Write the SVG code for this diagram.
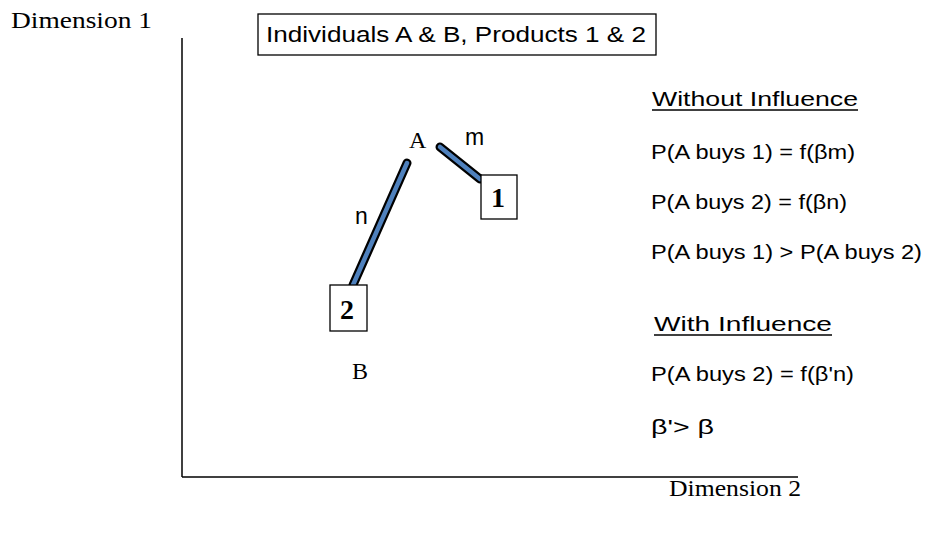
<svg xmlns="http://www.w3.org/2000/svg" width="933" height="533" viewBox="0 0 933 533">
<style>
.serif{font-family:"Liberation Serif","Times New Roman",serif;fill:#000}
.sans{font-family:"Liberation Sans",Arial,sans-serif;fill:#000}
.box{fill:#fff;stroke:#000;stroke-width:1.3}
.outer{stroke:#000;stroke-width:9;stroke-linecap:round;fill:none}
.inner{stroke:#4f81bd;stroke-width:4.5;stroke-linecap:round;fill:none}
.rt{font-size:20px}
</style>
<rect width="933" height="533" fill="#fff"/>
<g id="axes">
<line x1="182" y1="38" x2="182" y2="477" stroke="#000" stroke-width="1.5"/>
<line x1="182" y1="477" x2="798" y2="477" stroke="#000" stroke-width="1.5"/>
<text class="serif" x="11" y="28" font-size="23" textLength="141" lengthAdjust="spacingAndGlyphs">Dimension 1</text>
<text class="serif" x="669" y="496" font-size="23" textLength="132" lengthAdjust="spacingAndGlyphs">Dimension 2</text>
</g>
<g id="title">
<rect class="box" x="258" y="14" width="398" height="41"/>
<text class="sans" x="266" y="42" font-size="22" textLength="380" lengthAdjust="spacingAndGlyphs">Individuals A &amp; B, Products 1 &amp; 2</text>
</g>
<g id="connectors">
<line class="outer" x1="407" y1="163" x2="353" y2="285"/>
<line class="inner" x1="407" y1="163" x2="353" y2="285"/>
<line class="outer" x1="440" y1="147" x2="480" y2="179"/>
<line class="inner" x1="440" y1="147" x2="480" y2="179"/>
<text class="sans" x="355" y="224" font-size="23">n</text>
<text class="sans" x="465" y="145" font-size="23">m</text>
</g>
<g id="nodeA"><text class="serif" x="409" y="148" font-size="24">A</text></g>
<g id="nodeB"><text class="serif" x="352" y="379" font-size="24">B</text></g>
<g id="node1">
<rect class="box" x="481" y="175" width="36" height="44"/>
<text class="serif" x="498" y="207" font-size="28" font-weight="bold" text-anchor="middle">1</text>
</g>
<g id="node2">
<rect class="box" x="330" y="285" width="37" height="46"/>
<text class="serif" x="347" y="319" font-size="28" font-weight="bold" text-anchor="middle">2</text>
</g>
<g id="without">
<text class="sans rt" x="652" y="106" textLength="206" lengthAdjust="spacingAndGlyphs">Without Influence</text>
<line x1="652" y1="110" x2="858" y2="110" stroke="#000" stroke-width="1.5"/>
<text class="sans rt" x="651" y="159" textLength="204" lengthAdjust="spacingAndGlyphs">P(A buys 1) = f(βm)</text>
<text class="sans rt" x="651" y="209" textLength="196" lengthAdjust="spacingAndGlyphs">P(A buys 2) = f(βn)</text>
<text class="sans rt" x="651" y="259" textLength="271" lengthAdjust="spacingAndGlyphs">P(A buys 1) &gt; P(A buys 2)</text>
</g>
<g id="with">
<text class="sans rt" x="654" y="331" textLength="178" lengthAdjust="spacingAndGlyphs">With Influence</text>
<line x1="654" y1="335" x2="832" y2="335" stroke="#000" stroke-width="1.5"/>
<text class="sans rt" x="651" y="381" textLength="203" lengthAdjust="spacingAndGlyphs">P(A buys 2) = f(β'n)</text>
<text class="sans rt" x="651" y="434" textLength="63" lengthAdjust="spacingAndGlyphs">β'&gt; β</text>
</g>
</svg>
